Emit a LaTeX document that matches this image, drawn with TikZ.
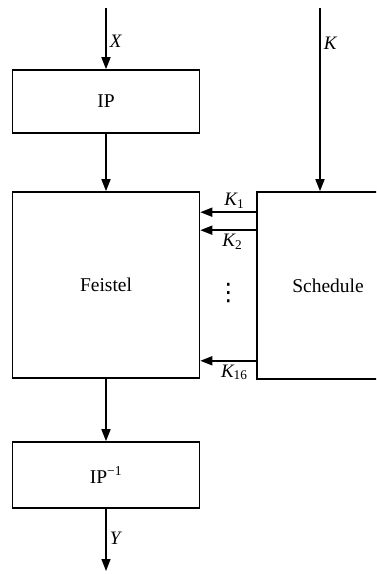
\documentclass[tikz,border=0pt]{standalone}
\usepackage{fontspec}
\setmainfont{Liberation Serif}
\newfontfamily\dotsfont{DejaVu Sans}
\usepackage{tikz}
\usetikzlibrary{arrows.meta,positioning,calc}

\begin{document}
\begin{tikzpicture}[x=1pt,y=-1pt,>={Triangle[length=12pt,width=9pt]},
  blk/.style={draw,line width=1.6pt,inner sep=0pt,font=\fontsize{19.5}{22}\selectfont},
  arr/.style={->,line width=1.6pt},
  lab/.style={font=\fontsize{19}{22}\selectfont\itshape,inner sep=3pt}]
  \clip (0,0) rectangle (376,574);
  % boxes
  \node[blk,minimum width=187pt,minimum height=63pt] (ip) at (106,101.5) {IP};
  \node[blk,minimum width=187pt,minimum height=186pt] (feistel) at (106,285) {Feistel};
  \node[blk,minimum width=187pt,minimum height=66pt] (ipinv) at (106,475) {IP\textsuperscript{\textminus1}};
  \node[blk,minimum width=142pt,minimum height=187pt] (sched) at (328,285.5) {Schedule};
  % free ends
  \coordinate (xin) at (106,8);
  \coordinate (kin) at (320,8);
  \coordinate (yout) at (106,571);
  % data path
  \draw[arr] (xin) -- (ip.north) node[lab,pos=0.55,right] {X};
  \draw[arr] (ip) -- (feistel);
  \draw[arr] (feistel) -- (ipinv);
  \draw[arr] (ipinv) -- (yout) node[lab,pos=0.48,right] {Y};
  % key schedule
  \draw[arr] (kin) -- (kin |- sched.north) node[lab,pos=0.19,right] {K};
  \coordinate (k1) at ([yshift=-21pt]sched.north west);
  \coordinate (k2) at ([yshift=-39pt]sched.north west);
  \coordinate (k16) at ([yshift=19pt]sched.south west);
  \draw[arr] (k1) -- (k1 -| feistel.east) node[lab,midway,above,xshift=6pt] {K\textsubscript{\upshape 1}};
  \draw[arr] (k2) -- (k2 -| feistel.east) node[lab,midway,below,xshift=4pt] {K\textsubscript{\upshape 2}};
  \draw[arr] (k16) -- (k16 -| feistel.east) node[lab,midway,below,xshift=6pt] {K\textsubscript{\upshape 16}};
  \node[font=\fontsize{24}{24}\dotsfont,inner sep=0pt] (dots) at ($(feistel.east)!0.5!(sched.west)+(0,8)$) {⋮};
\end{tikzpicture}
\end{document}
